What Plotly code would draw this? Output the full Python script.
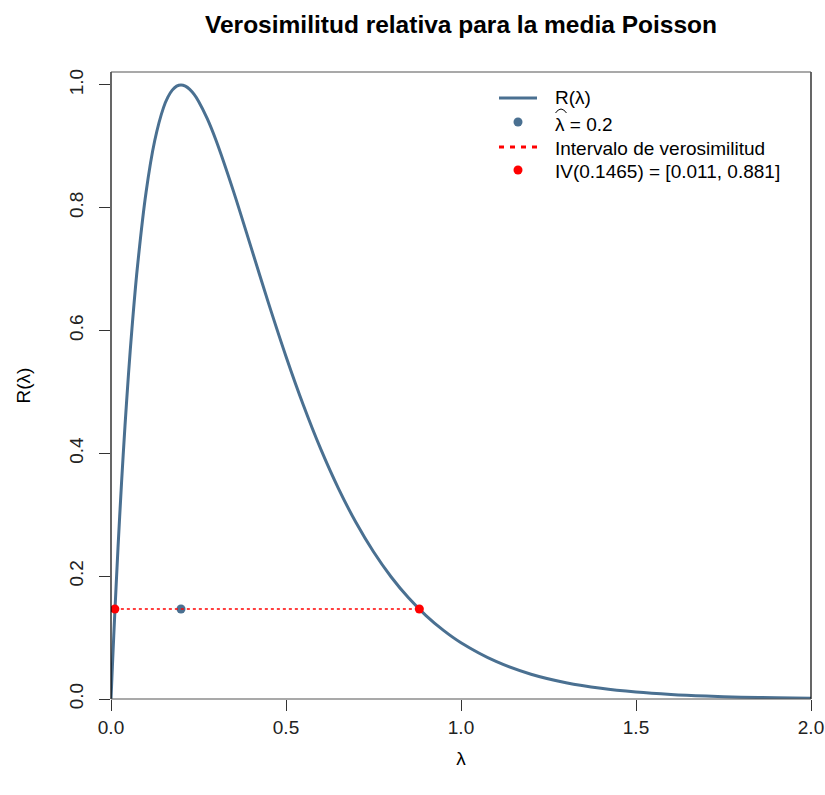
import plotly.graph_objects as go

# Relative likelihood R(lambda) for the Poisson mean, sampled along lambda
lam = [0, 0.0025, 0.005, 0.01, 0.02, 0.03, 0.04, 0.05, 0.06, 0.075, 0.1, 0.125,
       0.15, 0.1625, 0.175, 0.1875, 0.2, 0.2125, 0.225, 0.2375, 0.25, 0.275, 0.3,
       0.35, 0.4, 0.45, 0.5, 0.55, 0.6, 0.65, 0.7, 0.75, 0.8, 0.85, 0.9, 0.95,
       1.0, 1.1, 1.2, 1.3, 1.4, 1.5, 1.6, 1.7, 1.8, 1.9, 2.0]
rel = [0, 0.0336, 0.0663, 0.1293, 0.2460, 0.3509, 0.4451, 0.5292, 0.6041, 0.7006,
       0.8244, 0.9094, 0.9630, 0.9801, 0.9915, 0.9980, 1.0, 0.9981, 0.9928,
       0.9845, 0.9735, 0.9450, 0.9098, 0.8266, 0.7358, 0.6446, 0.5578, 0.4779,
       0.4060, 0.3426, 0.2873, 0.2397, 0.1991, 0.1648, 0.1359, 0.1117, 0.0916,
       0.0611, 0.0404, 0.0266, 0.0174, 0.0113, 0.0073, 0.0047, 0.0030, 0.0019,
       0.0012]

lam_hat = 0.2
level = 0.1465
interval = [0.011, 0.881]

x_ticks = [0, 0.5, 1.0, 1.5, 2.0]
y_ticks = [0, 0.2, 0.4, 0.6, 0.8, 1.0]

legend_labels = ["R(λ)", "λ = 0.2", "Intervalo de verosimilitud",
                 "IV(0.1465) = [0.011, 0.881]"]

blue = "#4A7091"
red = "#FF0000"
font = "Liberation Sans, Arial, sans-serif"

W, H = 825, 795
ML, MR, MT, MB = 111, 14, 72, 96
PW, PH = W - ML - MR, H - MT - MB


def px(xp):
    return (xp - ML) / PW


def py(yp):
    return (H - MB - yp) / PH


fig = go.Figure()
fig.add_trace(go.Scatter(x=lam, y=rel, mode="lines", name=legend_labels[0],
                         line=dict(color=blue, width=3, shape="spline", smoothing=0.8)))
fig.add_trace(go.Scatter(x=[lam_hat], y=[level], mode="markers", name=legend_labels[1],
                         marker=dict(color=blue, size=9)))
fig.add_trace(go.Scatter(x=interval, y=[level, level], mode="lines",
                         name=legend_labels[2],
                         line=dict(color=red, width=1.6, dash="dot")))
fig.add_trace(go.Scatter(x=interval, y=[level, level], mode="markers",
                         name=legend_labels[3],
                         marker=dict(color=red, size=9)))

# Plot frame: black sides, grey top and bottom
frame = [
    dict(x0=0, x1=0, y0=0, y1=1, color="black"),
    dict(x0=1, x1=1, y0=0, y1=1, color="black"),
    dict(x0=0, x1=1, y0=1, y1=1, color="#555555"),
    dict(x0=0, x1=1, y0=0, y1=0, color="#555555"),
]
for s in frame:
    fig.add_shape(type="line", xref="paper", yref="paper",
                  x0=s["x0"], x1=s["x1"], y0=s["y0"], y1=s["y1"],
                  line=dict(color=s["color"], width=1.2), layer="above")

# Legend block (keys + labels) in the upper right of the panel
key_x0, key_x1, key_xm, text_x = 499, 537, 518, 553
rows = [98, 125, 148, 171]
fig.add_shape(type="line", xref="paper", yref="paper",
              x0=px(key_x0), x1=px(key_x1), y0=py(rows[0]), y1=py(rows[0]),
              line=dict(color=blue, width=3))
fig.add_shape(type="circle", xref="paper", yref="paper", xsizemode="pixel",
              ysizemode="pixel", xanchor=px(key_xm), yanchor=py(rows[1] - 3),
              x0=-4.5, x1=4.5, y0=-4.5, y1=4.5,
              fillcolor=blue, line=dict(width=0))
fig.add_shape(type="line", xref="paper", yref="paper",
              x0=px(key_x0), x1=px(key_x1), y0=py(rows[2] - 1), y1=py(rows[2] - 1),
              line=dict(color=red, width=3, dash="5px,6px"))
fig.add_shape(type="circle", xref="paper", yref="paper", xsizemode="pixel",
              ysizemode="pixel", xanchor=px(key_xm), yanchor=py(rows[3] - 1),
              x0=-4.5, x1=4.5, y0=-4.5, y1=4.5,
              fillcolor=red, line=dict(width=0))
for label, yr in zip(legend_labels, rows):
    fig.add_annotation(text=label, xref="paper", yref="paper",
                       x=px(text_x), y=py(yr), xanchor="left", yanchor="middle",
                       showarrow=False, font=dict(family=font, size=19, color="black"))
# hat over the lambda of the estimate label
hx0, hx1, hy = 555.5, 566.5, 113
fig.add_shape(type="path", xref="paper", yref="paper",
              path=(f"M {px(hx0)},{py(hy)} Q {px((hx0 + hx1) / 2)},{py(hy - 8)} "
                    f"{px(hx1)},{py(hy)}"),
              line=dict(color="black", width=1))

fig.update_layout(
    width=W, height=H,
    margin=dict(l=ML, r=MR, t=MT, b=MB),
    paper_bgcolor="white", plot_bgcolor="white",
    font=dict(family=font, size=19, color="black"),
    title=dict(text="<b>Verosimilitud relativa para la media Poisson</b>",
               x=(ML + PW / 2) / W, xanchor="center", y=0.98, yanchor="top",
               font=dict(size=24.5, color="black")),
    xaxis=dict(range=[0, 2], tickvals=x_ticks, ticktext=[f"{v:.1f}" for v in x_ticks],
               showgrid=False, zeroline=False, showline=False, automargin=False,
               ticks="outside", ticklen=11, tickcolor="#333333",
               tickfont=dict(size=19, color="#222222"),
               title=dict(text="λ", standoff=14, font=dict(size=19))),
    yaxis=dict(range=[0, 1.021], tickvals=y_ticks, ticktext=[f"{v:.1f}" for v in y_ticks],
               showgrid=False, zeroline=False, showline=False, automargin=False,
               ticks="outside", ticklen=11, tickcolor="#333333", tickangle=-90,
               ticklabelstandoff=8,
               tickfont=dict(size=19, color="#222222"),
               title=dict(text="R(λ)", standoff=30, font=dict(size=19))),
    showlegend=False,
)

fig.write_html("out.html")
